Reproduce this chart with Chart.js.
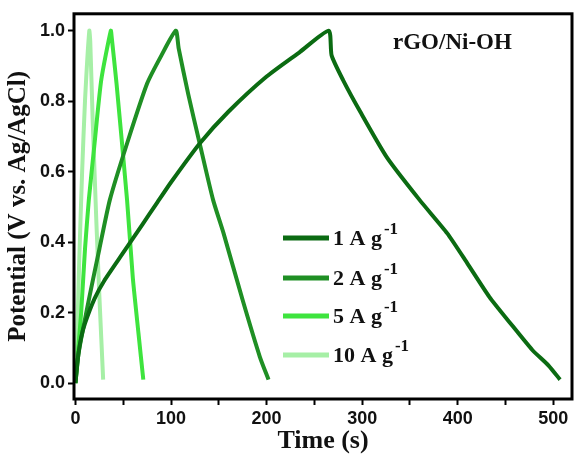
<!DOCTYPE html>
<html>
<head>
<meta charset="utf-8">
<script src="https://cdn.jsdelivr.net/npm/chart.js@4"></script>
<style>
  html, body { margin: 0; padding: 0; background: #fff; }
  #wrap { width: 576px; height: 461px; position: relative; }
</style>
</head>
<body>
<div id="wrap"><canvas id="gcd"></canvas></div>
<script>
// galvanostatic charge/discharge curves, rGO/Ni-OH
const labels = ['1 A g', '2 A g', '5 A g', '10 A g'];
const colors = ['#0b6b12', '#1f8f24', '#3ee43e', '#a6efa6'];

const t1 = [0, 3, 6, 10, 20, 30, 50, 70, 85, 100, 130, 160, 200, 235, 265, 268, 280, 298, 326, 360, 389, 410, 433, 455, 478, 495, 507];
const v1 = [0, 0.08, 0.13, 0.17, 0.24, 0.29, 0.37, 0.45, 0.51, 0.57, 0.68, 0.77, 0.87, 0.94, 1.0, 0.93, 0.86, 0.77, 0.64, 0.52, 0.425, 0.34, 0.245, 0.17, 0.094, 0.05, 0.01];

const t2 = [0, 3, 7, 15, 25, 36, 54, 75, 90, 105, 108, 118, 130, 144, 155, 175, 193, 202];
const v2 = [0, 0.08, 0.14, 0.25, 0.38, 0.52, 0.68, 0.85, 0.93, 1.0, 0.95, 0.82, 0.68, 0.52, 0.425, 0.235, 0.074, 0.01];

const t5 = [0, 3, 6, 10, 14, 20, 27, 37, 38, 43, 54, 60, 66, 71];
const v5 = [0, 0.1, 0.2, 0.38, 0.52, 0.68, 0.86, 1.0, 0.98, 0.85, 0.52, 0.3, 0.14, 0.01];

const t10 = [0, 2, 4, 7, 10, 14.5, 15.5, 18, 22, 25, 29];
const v10 = [0, 0.15, 0.35, 0.6, 0.8, 1.0, 0.97, 0.75, 0.45, 0.25, 0.01];

const xTicks = [0, 50, 100, 150, 200, 250, 300, 350, 400, 450, 500];
const xLabelled = [0, 100, 200, 300, 400, 500];
const yTicks = [0.0, 0.2, 0.4, 0.6, 0.8, 1.0];

const times = [t1, t2, t5, t10];
const volts = [v1, v2, v5, v10];

const datasets = labels.map((lab, i) => ({
    label: lab,
    data: times[i].map((t, j) => ({ x: t, y: volts[i][j] })),
    borderColor: colors[i],
    backgroundColor: colors[i],
    borderWidth: 4,
    pointRadius: 0,
    tension: 0.2,
    fill: false,
    order: i
}));

const serif = "'Liberation Serif', 'DejaVu Serif', serif";
const sans = "'Liberation Sans', Arial, sans-serif";

const framePlugin = {
    id: 'frame',
    afterDatasetsDraw(chart) {
        const { ctx, chartArea: a } = chart;
        ctx.save();
        ctx.strokeStyle = '#000';
        ctx.lineWidth = 3;
        ctx.strokeRect(a.left, a.top, a.right - a.left, a.bottom - a.top);

        // sample label
        ctx.fillStyle = '#111';
        ctx.font = `bold 23px ${serif}`;
        ctx.textBaseline = 'middle';
        ctx.textAlign = 'left';
        ctx.fillText('rGO/Ni-OH', 393, 43);

        // legend with superscript
        const rows = [238, 278, 316, 355];
        chart.data.datasets.forEach((d, i) => {
            const y = rows[i];
            ctx.strokeStyle = d.borderColor;
            ctx.lineWidth = 5;
            ctx.beginPath();
            ctx.moveTo(283, y);
            ctx.lineTo(329, y);
            ctx.stroke();
            ctx.fillStyle = '#111';
            ctx.font = `bold 22px ${serif}`;
            ctx.fillText(d.label, 333, y + 1);
            const w = ctx.measureText(d.label).width;
            ctx.font = `bold 17px ${serif}`;
            ctx.fillText('-1', 333 + w + 2, y - 8);
        });
        ctx.restore();
    }
};

new Chart(document.getElementById('gcd'), {
    type: 'line',
    data: { datasets },
    options: {
        responsive: true,
        maintainAspectRatio: false,
        animation: false,
        events: [],
        layout: { padding: { top: 13, right: 4, left: 0, bottom: 0 } },
        plugins: { legend: { display: false }, tooltip: { enabled: false } },
        scales: {
            x: {
                type: 'linear',
                min: -1.5,
                max: 519.5,
                afterBuildTicks(scale) {
                    scale.ticks = xTicks.map(v => ({ value: v }));
                },
                afterFit(scale) { scale.height = 62; },
                ticks: {
                    autoSkip: false,
                    maxRotation: 0,
                    color: '#111',
                    padding: 3,
                    font: { family: sans, size: 18, weight: 'bold' },
                    callback: v => xLabelled.includes(v) ? String(v) : ''
                },
                grid: { display: true, drawOnChartArea: false, drawTicks: true, tickLength: 6, tickWidth: 2, tickColor: '#000' },
                border: { display: false },
                title: {
                    display: true,
                    text: 'Time (s)',
                    color: '#111',
                    padding: { top: 4 },
                    font: { family: serif, size: 26, weight: 'bold' }
                }
            },
            y: {
                type: 'linear',
                min: -0.045,
                max: 1.048,
                afterBuildTicks(scale) {
                    scale.ticks = yTicks.map(v => ({ value: v }));
                },
                afterFit(scale) { scale.width = 74; },
                ticks: {
                    autoSkip: false,
                    color: '#111',
                    padding: 3,
                    font: { family: sans, size: 18, weight: 'bold' },
                    callback: v => Number(v).toFixed(1)
                },
                grid: { display: true, drawOnChartArea: false, drawTicks: true, tickLength: 6, tickWidth: 2, tickColor: '#000' },
                border: { display: false },
                title: {
                    display: true,
                    text: 'Potential (V vs. Ag/AgCl)',
                    color: '#111',
                    padding: { bottom: 0 },
                    font: { family: serif, size: 25, weight: 'bold' }
                }
            }
        }
    },
    plugins: [framePlugin]
});
</script>
</body>
</html>
